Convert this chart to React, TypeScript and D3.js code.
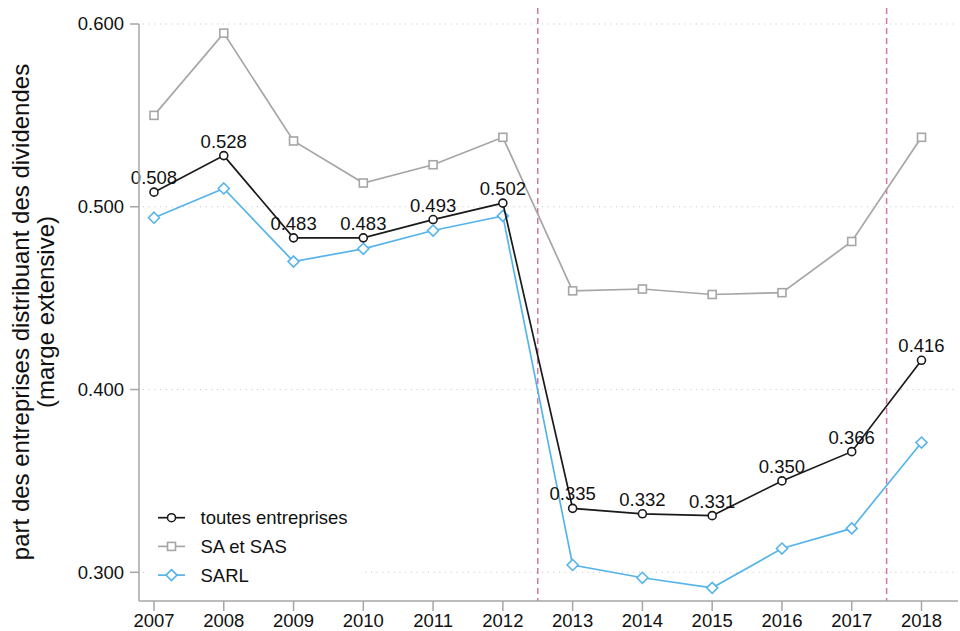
import React from "react";
import * as d3 from "d3";

const years = [2007, 2008, 2009, 2010, 2011, 2012, 2013, 2014, 2015, 2016, 2017, 2018];
const toutes = [0.508, 0.528, 0.483, 0.483, 0.493, 0.502, 0.335, 0.332, 0.331, 0.35, 0.366, 0.416];
const saSas = [0.55, 0.595, 0.536, 0.513, 0.523, 0.538, 0.454, 0.455, 0.452, 0.453, 0.481, 0.538];
const sarl = [0.494, 0.51, 0.47, 0.477, 0.487, 0.495, 0.304, 0.297, 0.2915, 0.313, 0.324, 0.371];
const yTicks = [0.3, 0.4, 0.5, 0.6];
const breaks = [2012.5, 2017.5];
const legendLabels = ["toutes entreprises", "SA et SAS", "SARL"];

const W = 960;
const H = 631;
const font = "'Liberation Sans', Arial, Helvetica, sans-serif";
const fs = 18.5;

const colors = { toutes: "#1a1a1a", sa: "#a6a6a6", sarl: "#56b4e9", vline: "#cc79a7", axis: "#a6a6a6" };

function Marker(props: { kind: string; x: number; y: number; color: string }) {
  const { kind, x, y, color } = props;
  if (kind === "circle")
    return <circle cx={x} cy={y} r={4} fill="white" stroke={color} strokeWidth={1.6} />;
  if (kind === "square")
    return <rect x={x - 4} y={y - 4} width={8} height={8} fill="white" stroke={color} strokeWidth={1.6} />;
  return (
    <path
      d={`M${x},${y - 5.5}L${x + 5.5},${y}L${x},${y + 5.5}L${x - 5.5},${y}Z`}
      fill="white"
      stroke={color}
      strokeWidth={1.6}
    />
  );
}

export default function App() {
  const x = d3.scaleLinear().domain([2007, 2018]).range([154, 921.5]);
  const y = d3.scaleLinear().domain([0.3, 0.6]).range([572.3, 24]);
  const axisY = 601;
  const axisX = 139;

  const line = d3
    .line<number>()
    .x((_, i) => x(years[i]))
    .y((d) => y(d));

  const series = [
    { data: saSas, color: colors.sa, kind: "square" },
    { data: sarl, color: colors.sarl, kind: "diamond" },
    { data: toutes, color: colors.toutes, kind: "circle" },
  ];

  const legend = [
    { label: legendLabels[0], color: colors.toutes, kind: "circle" },
    { label: legendLabels[1], color: colors.sa, kind: "square" },
    { label: legendLabels[2], color: colors.sarl, kind: "diamond" },
  ];

  return (
    <svg width={W} height={H} style={{ position: "absolute", left: 0, top: 0 }} fontFamily={font}>
      <rect width={W} height={H} fill="white" />
      {/* grid */}
      {yTicks.map((t) => (
        <line
          key={`g${t}`}
          x1={axisX + 4}
          x2={958}
          y1={y(t)}
          y2={y(t)}
          stroke="#c4c4c4"
          strokeWidth={1}
          strokeDasharray="1,4.7"
        />
      ))}
      {/* break lines */}
      {breaks.map((b) => (
        <line
          key={`b${b}`}
          x1={x(b)}
          x2={x(b)}
          y1={8}
          y2={axisY}
          stroke={colors.vline}
          strokeWidth={1.5}
          strokeDasharray="6,4"
        />
      ))}
      {/* series */}
      {series.map((s) => (
        <g key={s.kind}>
          <path d={line(s.data) || ""} fill="none" stroke={s.color} strokeWidth={1.7} />
          {s.data.map((d, i) => (
            <Marker key={i} kind={s.kind} x={x(years[i])} y={y(d)} color={s.color} />
          ))}
        </g>
      ))}
      {/* value labels */}
      {toutes.map((d, i) => (
        <text key={`l${i}`} x={x(years[i])} y={y(d) - 8} textAnchor="middle" fontSize={fs} fill="#111">
          {d3.format(".3f")(d)}
        </text>
      ))}
      {/* axes */}
      <line x1={axisX} x2={axisX} y1={y(0.6)} y2={axisY} stroke={colors.axis} strokeWidth={1.5} />
      <line x1={axisX} x2={958} y1={axisY} y2={axisY} stroke={colors.axis} strokeWidth={1.5} />
      {yTicks.map((t) => (
        <g key={`yt${t}`}>
          <line x1={axisX - 9} x2={axisX} y1={y(t)} y2={y(t)} stroke={colors.axis} strokeWidth={1.5} />
          <text x={axisX - 15} y={y(t)} dy="0.35em" textAnchor="end" fontSize={fs} fill="#111">
            {d3.format(".3f")(t)}
          </text>
        </g>
      ))}
      {years.map((yr) => (
        <g key={`xt${yr}`}>
          <line x1={x(yr)} x2={x(yr)} y1={axisY} y2={axisY + 10} stroke={colors.axis} strokeWidth={1.5} />
          <text x={x(yr)} y={627} textAnchor="middle" fontSize={fs} fill="#111">
            {yr}
          </text>
        </g>
      ))}
      {/* y title */}
      <g transform="translate(29,312) rotate(-90)">
        <text x={0} y={0} textAnchor="middle" fontSize={24} fill="#111">
          part des entreprises distribuant des dividendes
        </text>
        <text x={0} y={25} textAnchor="middle" fontSize={24} fill="#111">
          (marge extensive)
        </text>
      </g>
      {/* legend */}
      <rect x={148} y={503} width={215} height={86} fill="white" />
      {legend.map((l, i) => {
        const ly = 517.7 + i * 28.7;
        return (
          <g key={l.label}>
            <line x1={158} x2={185} y1={ly} y2={ly} stroke={l.color} strokeWidth={1.7} />
            <Marker kind={l.kind} x={171.5} y={ly} color={l.color} />
            <text x={200.5} y={ly} dy="0.35em" fontSize={fs} fill="#111">
              {l.label}
            </text>
          </g>
        );
      })}
    </svg>
  );
}
